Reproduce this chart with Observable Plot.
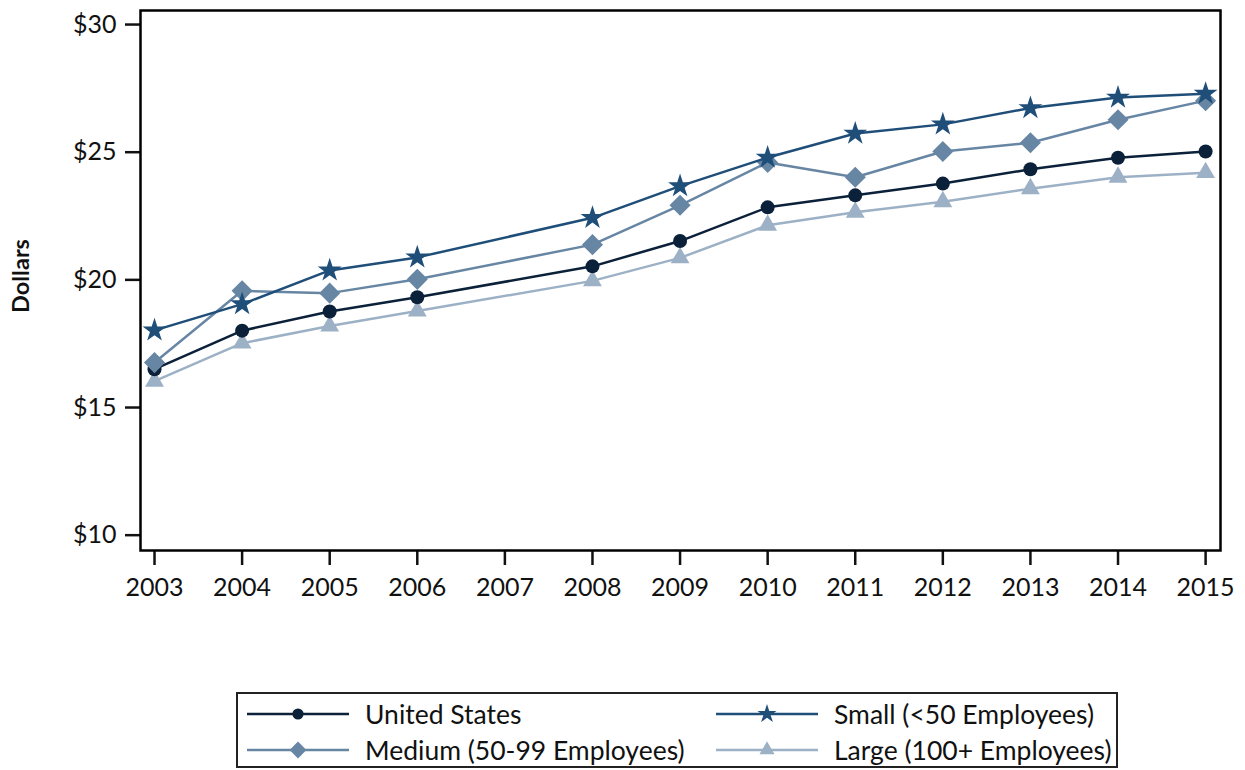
<!DOCTYPE html>
<html>
<head>
<meta charset="utf-8">
<script src="https://cdn.jsdelivr.net/npm/d3@7"></script>
<script src="https://cdn.jsdelivr.net/npm/@observablehq/plot@0.6"></script>
<style>
  body { margin: 0; background: #fff; font-family: Lato, "Open Sans", sans-serif; }
  #wrap { position: relative; width: 1245px; height: 770px; }
  #legend { position: absolute; left: 236px; top: 692px; width: 882px; height: 76px;
            border: 2px solid #222; box-sizing: border-box; }
  .item { position: absolute; display: flex; align-items: center; font-size: 26.5px; color: #111; }
  .item svg { margin-right: 16px; }
  #ylabel { position: absolute; left: 20px; top: 276px; transform: translate(-50%, -50%) rotate(-90deg);
            font-weight: bold; font-size: 23.5px; color: #111; white-space: nowrap; }
</style>
</head>
<body>
<div id="wrap">
  <div id="chart"></div>
  <div id="ylabel">Dollars</div>
  <div id="legend"></div>
</div>
<script>
const years = [2003, 2004, 2005, 2006, 2008, 2009, 2010, 2011, 2012, 2013, 2014, 2015];
const unitedStates = [16.50, 18.01, 18.76, 19.32, 20.53, 21.52, 22.84, 23.31, 23.77, 24.33, 24.78, 25.03];
const small        = [18.02, 19.05, 20.37, 20.88, 22.43, 23.67, 24.79, 25.73, 26.09, 26.73, 27.14, 27.29];
const medium       = [16.76, 19.57, 19.48, 20.02, 21.38, 22.92, 24.60, 24.02, 25.03, 25.37, 26.27, 27.02];
const large        = [16.03, 17.52, 18.19, 18.78, 19.96, 20.86, 22.14, 22.65, 23.06, 23.57, 24.02, 24.20];
const seriesNames = ["United States", "Small (<50 Employees)", "Medium (50-99 Employees)", "Large (100+ Employees)"];
const xTicks = [2003, 2004, 2005, 2006, 2007, 2008, 2009, 2010, 2011, 2012, 2013, 2014, 2015];
const yTicks = [10, 15, 20, 25, 30];

const styles = {
  "United States": {color: "#0b2039", symbol: "circle", r: 7},
  "Small (<50 Employees)": {color: "#1f4e79", symbol: "star", r: 7.5},
  "Medium (50-99 Employees)": {color: "#6786a4", symbol: "diamond2", r: 9.5},
  "Large (100+ Employees)": {color: "#9db1c6", symbol: "triangle", r: 7}
};
const allValues = [unitedStates, small, medium, large];
const data = [];
seriesNames.forEach((name, i) => {
  years.forEach((yr, j) => data.push({series: name, year: yr, value: allValues[i][j]}));
});
const drawOrder = ["Large (100+ Employees)", "United States", "Medium (50-99 Employees)", "Small (<50 Employees)"];

const marks = [];
for (const name of drawOrder) {
  const s = styles[name];
  const d = data.filter(r => r.series === name);
  marks.push(Plot.line(d, {x: "year", y: "value", stroke: s.color, strokeWidth: 2.5}));
  marks.push(Plot.dot(d, {x: "year", y: "value", fill: s.color, stroke: "none", symbol: () => s.symbol, r: s.r}));
}

const chart = Plot.plot({
  width: 1245,
  height: 640,
  marginLeft: 140,
  marginRight: 25,
  marginTop: 10,
  marginBottom: 90,
  style: {fontFamily: "Lato, 'Open Sans', sans-serif", fontSize: "25px", color: "#111", background: "#fff"},
  x: {domain: [2002.84, 2015.17], label: null},
  y: {domain: [9.40, 30.55], label: null},
  symbol: {type: "identity"},
  marks: [
    Plot.axisX({ticks: xTicks, tickFormat: d => String(d), tickSize: 15, tickPadding: 13, strokeWidth: 2.5, fontSize: 25, label: null}),
    Plot.axisY({ticks: yTicks, tickFormat: d => "$" + d, tickSize: 15, tickPadding: 9, strokeWidth: 2.5, fontSize: 25, label: null}),
    ...marks,
    Plot.frame({stroke: "#000", strokeWidth: 2.5})
  ]
});

document.getElementById("chart").append(chart);

const legend = d3.select("#legend");
const positions = [
  {name: "United States", left: 9, top: 2},
  {name: "Small (<50 Employees)", left: 478, top: 2},
  {name: "Medium (50-99 Employees)", left: 9, top: 38},
  {name: "Large (100+ Employees)", left: 478, top: 38}
];
const symMap = {circle: d3.symbolCircle, star: d3.symbolStar, diamond2: d3.symbolDiamond2, triangle: d3.symbolTriangle};
for (const p of positions) {
  const s = styles[p.name];
  const item = legend.append("div").attr("class", "item")
    .style("left", p.left + "px").style("top", p.top + "px").style("height", "36px");
  const sw = item.append("svg").attr("width", 102).attr("height", 24);
  sw.append("line").attr("x1", 0).attr("x2", 102).attr("y1", 12).attr("y2", 12)
    .attr("stroke", s.color).attr("stroke-width", 2.5);
  sw.append("path").attr("transform", "translate(51,12)")
    .attr("d", d3.symbol(symMap[s.symbol], Math.PI * (s.r * 0.8) ** 2)())
    .attr("fill", s.color);
  item.append("span").text(p.name);
}
</script>
</body>
</html>
